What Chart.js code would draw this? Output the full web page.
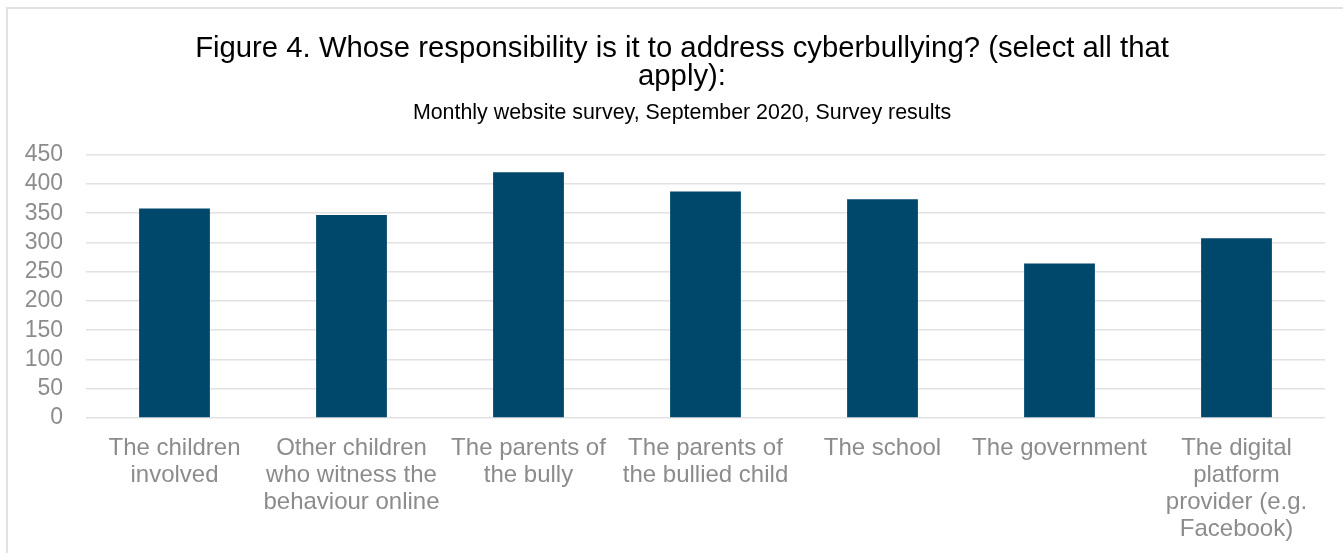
<!DOCTYPE html>
<html>
<head>
<meta charset="utf-8">
<script src="https://cdn.jsdelivr.net/npm/chart.js@4/dist/chart.umd.min.js"></script>
<style>
    html, body {
        margin: 0;
        padding: 0;
        background: #ffffff;
        overflow: hidden;
    }
    .wrap {
        position: relative;
        width: 1364px;
        height: 553px;
    }
    .frame {
        position: absolute;
        left: 6px;
        top: 7px;
        right: -20px;
        bottom: -20px;
        border-left: 2px solid #e2e2e2;
        border-top: 2px solid #e2e2e2;
        pointer-events: none;
    }
</style>
</head>
<body>
<div class="wrap">
    <canvas id="myChart"></canvas>
    <div class="frame"></div>
</div>
<script>
const categories = [
    ['The children', 'involved'],
    ['Other children', 'who witness the', 'behaviour online'],
    ['The parents of', 'the bully'],
    ['The parents of', 'the bullied child'],
    ['The school'],
    ['The government'],
    ['The digital', 'platform', 'provider (e.g.', 'Facebook)'],
];
const responses = [358, 347, 420, 387, 374, 264, 307];
const yTicks = [0, 50, 100, 150, 200, 250, 300, 350, 400, 450];

const titleLines = [
    'Figure 4. Whose responsibility is it to address cyberbullying? (select all that',
    'apply):',
];
const subtitleText = 'Monthly website survey, September 2020, Survey results';

const font = "'Liberation Sans', Arial, sans-serif";

const ctx = document
    .getElementById('myChart')
    .getContext('2d');
const myChart = new Chart(ctx, {
    type: 'bar',
    data: {
        labels: categories,
        datasets: [
            {
                data: responses,
                backgroundColor: '#00476c',
                borderWidth: 0,
                barPercentage: 0.4,
                categoryPercentage: 1.0,
                yAxisID: 'y',
            },
        ],
    },
    options: {
        responsive: true,
        maintainAspectRatio: false,
        animation: false,
        layout: {
            padding: { top: 35, right: 0, bottom: 0, left: 0 },
        },
        plugins: {
            legend: { display: false },
            tooltip: { enabled: false },
            title: {
                display: true,
                text: titleLines,
                color: '#000000',
                font: { family: font, size: 29.3, weight: 'normal', lineHeight: 28 / 29.3 },
                padding: { top: 0, bottom: 9 },
            },
            subtitle: {
                display: true,
                text: subtitleText,
                color: '#000000',
                font: { family: font, size: 21.4, weight: 'normal', lineHeight: 1.2 },
                padding: { top: 0, bottom: 29 },
            },
        },
        scales: {
            x: {
                grid: { display: false },
                border: { display: false },
                ticks: {
                    color: '#8c8c8c',
                    font: { family: font, size: 24, lineHeight: 27 / 24 },
                    padding: 9,
                    maxRotation: 0,
                    autoSkip: false,
                },
                afterFit: (scale) => { scale.height = 553 - 418; },
            },
            y: {
                min: 0,
                max: 450,
                afterBuildTicks: (scale) => {
                    scale.ticks = yTicks.map((v) => ({ value: v }));
                },
                grid: {
                    color: '#e2e2e2',
                    lineWidth: 1.5,
                    drawTicks: false,
                },
                border: { display: false },
                ticks: {
                    color: '#8c8c8c',
                    font: { family: font, size: 23 },
                    padding: 23,
                    autoSkip: false,
                },
                afterFit: (scale) => { scale.width = 86; },
            },
            // empty strip on the right so the plot stops short of the frame edge
            spacer: {
                type: 'linear',
                position: 'right',
                min: 0,
                max: 1,
                grid: { display: false },
                border: { display: false },
                ticks: { display: false },
                afterFit: (scale) => { scale.width = 39; },
            },
        },
    },
});
</script>
</body>
</html>
